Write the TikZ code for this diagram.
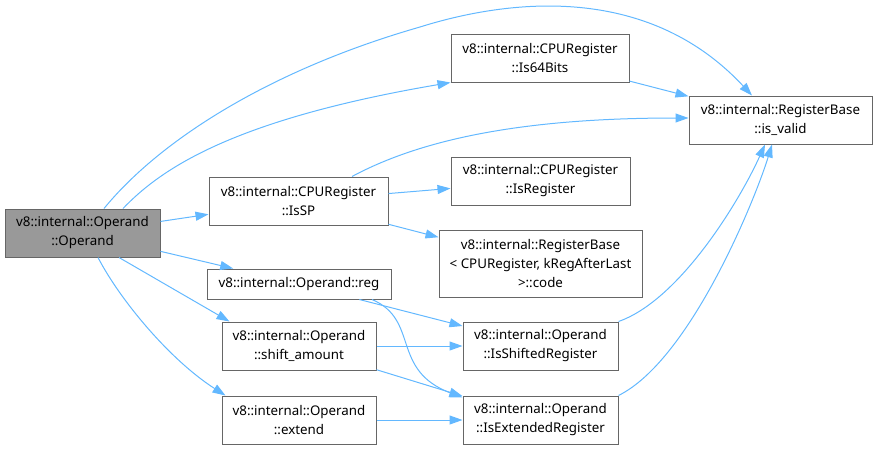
\documentclass[tikz,border=0pt]{standalone}
\usepackage{fontspec}
\setmainfont{Noto Sans}
\usetikzlibrary{arrows.meta}
\definecolor{edgeblue}{HTML}{63B8FF}
\definecolor{boxline}{HTML}{666666}
\definecolor{rootfill}{HTML}{999999}
\tikzset{
  box/.style={draw=boxline, fill=white, line width=1pt, inner sep=0pt, align=center,
    font=\fontsize{13.33}{19}\selectfont},
  rootbox/.style={box, fill=rootfill},
  link/.style={draw=edgeblue, line width=1pt, -{Triangle[length=13pt,width=9pt]}},
}
\begin{document}
\begin{tikzpicture}[x=1pt,y=-1pt]
\useasboundingbox (0,0) rectangle (878,450);
\node[rootbox, minimum width=155pt, minimum height=48pt] (op) at (82.5,233) {v8::internal::Operand\\::Operand};
\node[box, minimum width=178pt, minimum height=48pt] (b64) at (540,58) {v8::internal::CPURegister\\::Is64Bits};
\node[box, minimum width=183pt, minimum height=48pt] (iv) at (780.5,120) {v8::internal::RegisterBase\\::is\_valid};
\node[box, minimum width=179pt, minimum height=48pt] (issp) at (298.5,201) {v8::internal::CPURegister\\::IsSP};
\node[box, minimum width=179pt, minimum height=48pt] (isreg) at (540.5,181) {v8::internal::CPURegister\\::IsRegister};
\node[box, minimum width=203pt, minimum height=67pt] (code) at (540.5,263.5) {v8::internal::RegisterBase\\< CPURegister, kRegAfterLast\\>::code};
\node[box, minimum width=184pt, minimum height=30pt] (reg) at (299,284) {v8::internal::Operand::reg};
\node[box, minimum width=154pt, minimum height=48pt] (sa) at (299,346) {v8::internal::Operand\\::shift\_amount};
\node[box, minimum width=155pt, minimum height=48pt] (shr) at (540.5,346) {v8::internal::Operand\\::IsShiftedRegister};
\node[box, minimum width=154pt, minimum height=48pt] (ext) at (299,420) {v8::internal::Operand\\::extend};
\node[box, minimum width=155pt, minimum height=48pt] (exr) at (540.5,420) {v8::internal::Operand\\::IsExtendedRegister};

% curved edges
\draw[link] ([xshift=21.5pt]op.north) .. controls (160,140) and (270,70) .. (420,27)
  .. controls (490,5) and (640,-25) .. ([xshift=-28.5pt]iv.north);
\draw[link] ([xshift=40.5pt]op.north) .. controls (160,170) and (230,120) .. (b64.south west);
\draw[link] ([xshift=15.5pt]op.south) .. controls (120,300) and (170,360) .. ([xshift=4pt]ext.north west);
\draw[link] ([xshift=36.5pt]op.south) -- ([xshift=8pt]sa.north west);
\draw[link] ([xshift=53.5pt]issp.north) .. controls (420,140) and (520,118) .. ([yshift=2pt]iv.west);
\draw[link] ([xshift=73pt]reg.south) .. controls (420,320) and (390,370) .. ([yshift=-2pt]exr.north west);
\draw[link] (shr.north east) .. controls (680,300) and (740,200) .. ([xshift=-15.5pt]iv.south);
\draw[link] (exr.north east) .. controls (690,360) and (755,200) .. ([xshift=-8.5pt]iv.south);

% straight edges
\draw[link] (op) -- (issp);
\draw[link] (op) -- (reg);
\draw[link] (b64) -- (iv);
\draw[link] (issp) -- (isreg);
\draw[link] (issp) -- (code);
\draw[link] (reg) -- (shr);
\draw[link] (sa) -- (shr);
\draw[link] (sa) -- (exr);
\draw[link] (ext) -- (exr);
\end{tikzpicture}
\end{document}
